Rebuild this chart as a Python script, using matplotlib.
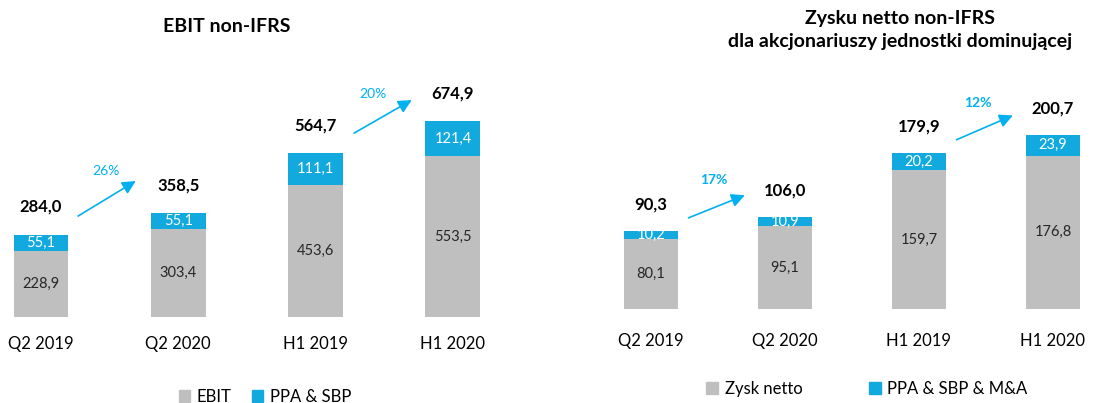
import matplotlib
matplotlib.use("Agg")
import matplotlib.pyplot as plt
from matplotlib.patches import Patch

plt.rcParams['font.family'] = ['Lato', 'DejaVu Sans']

# dane
okresy = ['Q2 2019', 'Q2 2020', 'H1 2019', 'H1 2020']

ebit = [228.9, 303.4, 453.6, 553.5]
ebit_ppa = [55.1, 55.1, 111.1, 121.4]
ebit_suma = [284.0, 358.5, 564.7, 674.9]
ebit_wzrost = ['26%', '20%']

zysk = [80.1, 95.1, 159.7, 176.8]
zysk_ppa = [10.2, 10.9, 20.2, 23.9]
zysk_suma = [90.3, 106.0, 179.9, 200.7]
zysk_wzrost = ['17%', '12%']

SZARY = '#BFBFBF'
NIEBIESKI = '#12A9DF'
STRZALKA = '#00B0F0'

W, H = 1114, 403


def fmt(v):
    return f"{v:.1f}".replace('.', ',')


def rysuj(ax, dol, gora, suma, wzrost, strzalki, procenty, pogrubione, off_suma, pad):
    x = range(len(okresy))
    ax.bar(x, dol, width=0.40, color=SZARY)
    ax.bar(x, gora, width=0.40, bottom=dol, color=NIEBIESKI)
    for i in x:
        ax.text(i, dol[i] / 2, fmt(dol[i]), ha='center', va='center',
                fontsize=10.5, color='#262626')
        ax.text(i, dol[i] + gora[i] / 2, fmt(gora[i]), ha='center', va='center',
                fontsize=10.5, color='white')
        ax.annotate(fmt(suma[i]), (i, suma[i]), xytext=(0, off_suma),
                    textcoords='offset points', ha='center', va='center',
                    fontsize=12, fontweight='bold', color='black')
    for (p0, p1), (tx, ty), txt in zip(strzalki, procenty, wzrost):
        ax.annotate('', xy=p1, xytext=p0,
                    arrowprops=dict(arrowstyle='-|>', color=STRZALKA, lw=1.2,
                                    mutation_scale=20, shrinkA=0, shrinkB=0))
        ax.text(tx, ty, txt, ha='center', va='center', fontsize=10,
                color=STRZALKA, fontweight='bold' if pogrubione else 'normal')
    ax.set_xticks(list(x))
    ax.set_xticklabels(okresy, fontsize=12)
    ax.tick_params(axis='x', length=0, pad=pad)
    ax.set_yticks([])
    for s in ax.spines.values():
        s.set_visible(False)


fig = plt.figure(figsize=(W / 100, H / 100), dpi=100)

# lewy wykres: EBIT
ax1 = fig.add_axes([0, (H - 317) / H, 540 / W, 317 / H])
ax1.set_xlim(-41 / 137.3, 499 / 137.3)
ax1.set_ylim(0, 317 / 0.29)
rysuj(ax1, ebit, ebit_ppa, ebit_suma, ebit_wzrost,
      strzalki=[((0.27, 348), (0.69, 469)), ((2.28, 634), (2.70, 748))],
      procenty=[(0.47, 503), (2.42, 769)],
      pogrubione=False, off_suma=20, pad=14)

# prawy wykres: zysk netto
ax2 = fig.add_axes([560 / W, (H - 309) / H, 554 / W, 309 / H])
ax2.set_xlim(-91 / 134, 463 / 134)
ax2.set_ylim(0, 309 / 0.868)
rysuj(ax2, zysk, zysk_ppa, zysk_suma, zysk_wzrost,
      strzalki=[((0.28, 105), (0.70, 131)), ((2.28, 195), (2.70, 223))],
      procenty=[(0.47, 149), (2.44, 237)],
      pogrubione=True, off_suma=19, pad=17)

fig.text(227 / W, 1 - 27 / H, 'EBIT non-IFRS', ha='center', va='center',
         fontsize=14, fontweight='bold')
fig.text(900 / W, 1 - 30 / H, 'Zysku netto non-IFRS\ndla akcjonariuszy jednostki dominującej',
         ha='center', va='center', fontsize=14, fontweight='bold', linespacing=1.4)

fig.legend(handles=[Patch(color=SZARY, label='EBIT'), Patch(color=NIEBIESKI, label='PPA & SBP')],
           loc='center', bbox_to_anchor=(265 / W, 1 - 397 / H), ncol=2, frameon=False,
           fontsize=12, handlelength=0.7, handleheight=0.7, handletextpad=0.4,
           columnspacing=1.2)
fig.legend(handles=[Patch(color=SZARY, label='Zysk netto'), Patch(color=NIEBIESKI, label='PPA & SBP & M&A')],
           loc='center', bbox_to_anchor=(867 / W, 1 - 389 / H), ncol=2, frameon=False,
           fontsize=12, handlelength=0.7, handleheight=0.7, handletextpad=0.4,
           columnspacing=4.0)

fig.savefig('out.png', dpi=100)
